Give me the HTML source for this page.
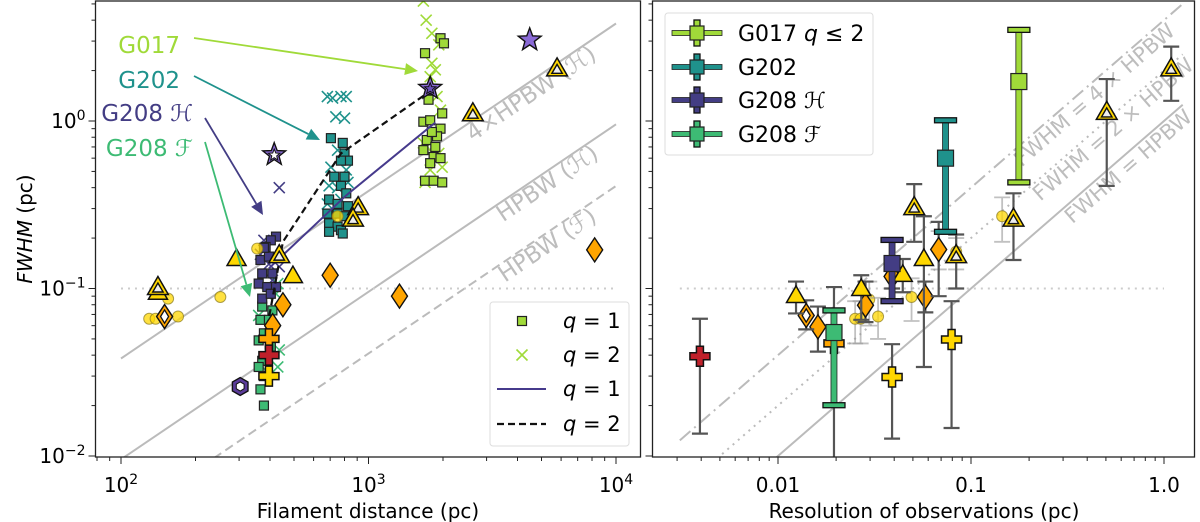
<!DOCTYPE html>
<html><head><meta charset="utf-8"><style>
html,body{margin:0;padding:0;background:#fff;}
svg{display:block;font-family:"DejaVu Sans","Liberation Sans",sans-serif;}
</style></head><body>
<svg id="fig" width="1200" height="522" viewBox="0 0 1200 522" xmlns="http://www.w3.org/2000/svg">
<defs>
<clipPath id="clipL"><rect x="95" y="1" width="546" height="456"/></clipPath>
<clipPath id="clipR"><rect x="652" y="1" width="543" height="456"/></clipPath>
</defs>
</svg>
<script>
// ---------- LEFT PANEL DATA (distance pc, FWHM pc) ----------
const g017SqD = [1954,2018,1692,1775,1748,1985,1666,1775,1954,1720,1862,1666,1833,1954,1775,1692,1833,1985,1892,1803];
const g017SqF = [3.12,2.91,2.54,1.53,1.34,1.11,0.99,1.01,0.90,0.77,0.70,0.67,0.61,0.60,0.56,0.44,0.44,0.43,0.81,0.86];
const g017XD = [1666,1710,1803,1923,1803,1862,1775,1954,1833,1720,1923,1985,1692,1775,1892,1666];
const g017XF = [5.2,4.0,3.34,2.85,2.21,2.02,1.84,1.16,0.84,0.70,0.64,0.53,0.43,0.51,1.40,0.74];
const g202SqD = [705,787,800,826,774,727,800,774,813,693,750,826,682,750,693,750,774,693,787,800];
const g202SqF = [0.79,0.74,0.64,0.58,0.58,0.465,0.465,0.41,0.37,0.34,0.32,0.31,0.28,0.28,0.245,0.234,0.223,0.218,0.213,0.27];
const g202XD = [682,716,774,813,738,800,750,705,813,693,750,826,682,774,727];
const g202XF = [1.40,1.37,1.40,1.40,1.06,1.04,0.67,0.53,0.51,0.41,0.40,0.43,0.32,0.34,0.256];
const g208HSqD = [423,403,384,366,396,372,409,360,390,423,372,403,378];
const g208HSqF = [0.204,0.194,0.177,0.148,0.155,0.123,0.123,0.107,0.102,0.102,0.087,0.093,0.175];
const g208HXD = [436,378,396,436,409,366];
const g208HXF = [0.40,0.194,0.14,0.135,0.112,0.16];
const g208FSqD = [372,409,366,396,378,360,403,372,360,378,366,378];
const g208FSqF = [0.078,0.074,0.065,0.065,0.054,0.049,0.045,0.037,0.034,0.030,0.025,0.020];
const g208FXD = [360,430,436,430,384,423];
const g208FXF = [0.069,0.107,0.043,0.034,0.0325,0.093];
const medQ1D = [396,813,1862];
const medQ1F = [0.132,0.36,0.98];
const medQ2D = [390,451,774,1720];
const medQ2F = [0.059,0.19,0.64,1.46];
const litTriD = [293,495,141];
const litTriF = [0.148,0.117,0.093];
const litTriOpenD = [436,908,866,2640,5780,141];
const litTriOpenF = [0.155,0.30,0.256,1.09,2.02,0.10];
const litDiaD = [8200,700,1334,451,410];
const litDiaF = [0.17,0.12,0.09,0.08,0.06];
const litDiaOpenD = [150];
const litDiaOpenF = [0.068];
const litCircD = [130,138,155,170,252,355,750];
const litCircF = [0.066,0.066,0.087,0.068,0.089,0.173,0.27];
const litPlusD = [396,396,396];
const litPlusF = [0.050,0.040,0.030];
const litPlusC = ["#ffa500","#c0202a","#ffd700"];
const starD = [4480,416,1775];
const starF = [3.05,0.63,1.57];
const hexD = [303];
const hexF = [0.026];
const xTicksL = [100,1000,10000];
const xTickExpL = ["2","3","4"];
const yTicks = [1,0.1,0.01];
const yTickExp = ["0","\u22121","\u22122"];
// ---------- RIGHT PANEL DATA (resolution pc, FWHM pc, err lo, err hi) ----------
const grpName = ["G017 q\u22642","G202","G208 H","G208 F"];
const grpRes = [0.177,0.0738,0.039,0.0195];
const grpF = [1.72,0.60,0.141,0.0546];
const grpLo = [0.43,0.218,0.084,0.0201];
const grpHi = [3.5,1.01,0.195,0.074];
const rPlusRes = [0.00394,0.039,0.0793,0.0195];
const rPlusF = [0.0394,0.0296,0.0496,0.047];
const rPlusLo = [0.0136,0.0127,0.0147,0.004];
const rPlusHi = [0.066,0.0465,0.084,0.102];
const rPlusC = ["#c0202a","#ffd700","#ffd700","#ffa500"];
const rTriRes = [0.0124,0.027,0.0443,0.057];
const rTriF = [0.089,0.098,0.119,0.148];
const rTriLo = [0.071,0.065,0.095,0.034];
const rTriHi = [0.11,0.12,0.15,0.27];
const rTriOpenRes = [0.0508,0.0838,0.166,0.505,1.09];
const rTriOpenF = [0.30,0.155,0.256,1.11,2.02];
const rTriOpenLo = [0.19,0.10,0.148,0.41,1.32];
const rTriOpenHi = [0.42,0.21,0.37,1.78,2.78];
const rDiaRes = [0.0161,0.0284,0.039,0.058,0.068];
const rDiaF = [0.059,0.0795,0.118,0.089,0.171];
const rDiaLo = [0.042,0.063,0.10,0.072,0.09];
const rDiaHi = [0.078,0.11,0.14,0.11,0.25];
const rDiaOpenRes = [0.014];
const rDiaOpenF = [0.069];
const rDiaOpenLo = [0.057];
const rDiaOpenHi = [0.085];
const rCircRes = [0.0251,0.0268,0.0297,0.033,0.0492,0.068,0.0838,0.145];
const rCircF = [0.066,0.066,0.086,0.068,0.089,0.171,0.166,0.27];
const rCircLo = [0.047,0.047,0.06,0.05,0.064,0.13,0.13,0.19];
const rCircHi = [0.084,0.084,0.11,0.088,0.115,0.22,0.2,0.35];
const xTicksR = [0.01,0.1,1.0];
const xTickLabR = ["0.01","0.1","1.0"];

const NS = "http://www.w3.org/2000/svg";
const svg = document.getElementById("fig");
function mk(tag, a, parent){ const e=document.createElementNS(NS,tag); for(const k in a) e.setAttribute(k,a[k]); (parent||svg).appendChild(e); return e; }
const lg = Math.log10;
const xL = d => 121 + 247.5*(lg(d)-2);
const yV = f => 121 - 167.5*lg(f);
const xR = r => 778 + 193*(lg(r)+2);
const COL = {g017:"#a0da39", g202:"#1f928c", g208H:"#433d84", g208F:"#3dbb74", star:"#8a6ad6"};

function sq(g,x,y,s,fill){ return mk("rect",{x:x-s/2,y:y-s/2,width:s,height:s,fill:fill,stroke:"#222","stroke-width":1.2},g); }
function xm(g,x,y,s,c){ const p=mk("path",{d:`M${x-s} ${y-s}L${x+s} ${y+s}M${x-s} ${y+s}L${x+s} ${y-s}`,stroke:c,"stroke-width":1.6,fill:"none"},g); return p; }
function triPts(x,y,r){ return `${x},${y-r} ${x-0.866*r},${y+0.5*r} ${x+0.866*r},${y+0.5*r}`; }
function tri(g,x,y,r,open){ const t=mk("g",{},g); mk("polygon",{points:triPts(x,y,r),fill:"#ffd700",stroke:"#111","stroke-width":1.5,"stroke-linejoin":"miter"},t); if(open) mk("polygon",{points:triPts(x,y+0.5,r*0.5),fill:"#eee",stroke:"#111","stroke-width":1.4},t); return t; }
function diaPts(x,y,w,h){ return `${x},${y-h} ${x+w},${y} ${x},${y+h} ${x-w},${y}`; }
function dia(g,x,y,w,h,open){ const t=mk("g",{},g); mk("polygon",{points:diaPts(x,y,w,h),fill:"#ffa500",stroke:"#111","stroke-width":1.4},t); if(open) mk("polygon",{points:diaPts(x,y,w*0.5,h*0.55),fill:"#fff",stroke:"#111","stroke-width":1.3},t); return t; }
function plus(g,x,y,a,b,fill){ const p=mk("polygon",{points:`${x-a},${y-b} ${x+a},${y-b} ${x+a},${y-a} ${x+b},${y-a} ${x+b},${y+a} ${x+a},${y+a} ${x+a},${y+b} ${x-a},${y+b} ${x-a},${y+a} ${x-b},${y+a} ${x-b},${y-a} ${x-a},${y-a}`,fill:fill,stroke:"#111","stroke-width":1.5},g); return p; }
function starPts(x,y,R,r){ let p=[]; for(let i=0;i<10;i++){ const a=-Math.PI/2+i*Math.PI/5; const rr=i%2?r:R; p.push((x+rr*Math.cos(a)).toFixed(1)+","+(y+rr*Math.sin(a)).toFixed(1)); } return p.join(" "); }
function circ(g,x,y,r){ return mk("circle",{cx:x,cy:y,r:r,fill:"#ffd700","fill-opacity":0.75,stroke:"#8a7a20","stroke-width":1,"stroke-opacity":0.7},g); }
function ebar(g,x,lo,hi,c,w,op){ const t=mk("g",{opacity:op||1},g); mk("line",{x1:x,y1:yV(lo),x2:x,y2:yV(hi),stroke:c,"stroke-width":w||2.2},t); mk("line",{x1:x-8,y1:yV(lo),x2:x+8,y2:yV(lo),stroke:c,"stroke-width":w||2.2},t); mk("line",{x1:x-8,y1:yV(hi),x2:x+8,y2:yV(hi),stroke:c,"stroke-width":w||2.2},t); return t; }

// ================= LEFT PANEL =================
const L = mk("g",{});


const Lc = mk("g",{"clip-path":"url(#clipL)"},L);


const refC = [-3.418,-4.02,-4.388];
const refDash = ["none","none","9,5"];
const refNames = ["ref-line-4xhpbw-h","ref-line-hpbw-h","ref-line-hpbw-f"];
for(let i=0;i<3;i++){
  const l = mk("line",{x1:xL(100),y1:yV(Math.pow(10,2+refC[i])),x2:xL(10000),y2:yV(Math.pow(10,4+refC[i])),stroke:"#bbb","stroke-width":2,"stroke-dasharray":refDash[i]},Lc);
  
  
}
const refLabTxt = ["4\u00d7HPBW (\u210b)","HPBW (\u210b)","HPBW (\u2131)"];
const refLabD = [4300,5000,5000];
for(let i=0;i<3;i++){
  const d=refLabD[i], f=Math.pow(10,lg(d)+refC[i]);
  const tx=xL(d), ty=yV(f);
  const t = mk("text",{x:tx,y:ty+18,fill:"#bdbdbd","font-size":23,"text-anchor":"middle",transform:`rotate(-34 ${tx} ${ty})`},Lc);
  t.textContent = refLabTxt[i];
  
  
}
const dotL = mk("line",{x1:xL(100),y1:yV(0.1),x2:xL(10000),y2:yV(0.1),stroke:"#ccc","stroke-width":2,"stroke-dasharray":"2,5"},Lc);



const groups = [
 [g208FSqD,g208FSqF,g208FXD,g208FXF,COL.g208F,"g208f"],
 [g208HSqD,g208HSqF,g208HXD,g208HXF,COL.g208H,"g208h"],
 [g202SqD,g202SqF,g202XD,g202XF,COL.g202,"g202"],
 [g017SqD,g017SqF,g017XD,g017XF,COL.g017,"g017"]];
for(const G of groups){
  for(let i=0;i<G[2].length;i++){ const m=xm(Lc,xL(G[2][i]),yV(G[3][i]),5.5,G[4]);
    
     }
  for(let i=0;i<G[0].length;i++){ const m=sq(Lc,xL(G[0][i]),yV(G[1][i]),9,G[4]);
    
     }
}
const q1line = mk("polyline",{points:medQ1D.map((d,i)=>xL(d)+","+yV(medQ1F[i])).join(" "),fill:"none",stroke:"#463a8c","stroke-width":2},Lc);


const q2line = mk("polyline",{points:medQ2D.map((d,i)=>xL(d)+","+yV(medQ2F[i])).join(" "),fill:"none",stroke:"#111","stroke-width":2.2,"stroke-dasharray":"7,4"},Lc);



for(let i=0;i<litCircD.length;i++){ const m=circ(Lc,xL(litCircD[i]),yV(litCircF[i]),5.5);
  
   }
for(let i=0;i<litDiaD.length;i++){ const m=dia(Lc,xL(litDiaD[i]),yV(litDiaF[i]),8,12,false);
  
   }
for(let i=0;i<litDiaOpenD.length;i++){ const m=dia(Lc,xL(litDiaOpenD[i]),yV(litDiaOpenF[i]),8,12,true);
  
   }
for(let i=0;i<litTriD.length;i++){ const m=tri(Lc,xL(litTriD[i]),yV(litTriF[i]),11,false);
  
   }
for(let i=0;i<litTriOpenD.length;i++){ const m=tri(Lc,xL(litTriOpenD[i]),yV(litTriOpenF[i]),12,true);
  
   }
for(let i=0;i<litPlusD.length;i++){ const m=plus(Lc,xL(litPlusD[i]),yV(litPlusF[i]),3.5,10,litPlusC[i]);
  
   }
const starStyles = [["#8a6ad6",null],["#8a6ad6","#fff"],["#8a6ad6","#6a50b8"]];
for(let i=0;i<starD.length;i++){ const x=xL(starD[i]), y=yV(starF[i]);
  const s=mk("polygon",{points:starPts(x,y,12,5),fill:starStyles[i][0],stroke:"#111","stroke-width":1.4},Lc);
  
  
  if(starStyles[i][1]){ const s2=mk("polygon",{points:starPts(x,y+0.5,6,2.6),fill:starStyles[i][1],stroke:"#111","stroke-width":1},Lc);
    
     } }
for(let i=0;i<hexD.length;i++){ const x=xL(hexD[i]),y=yV(hexF[i]); let p=[],q=[];
  for(let k=0;k<6;k++){ const a=Math.PI/6+k*Math.PI/3; p.push((x+9*Math.cos(a)).toFixed(1)+","+(y+9*Math.sin(a)).toFixed(1)); q.push((x+4.5*Math.cos(a)).toFixed(1)+","+(y+4.5*Math.sin(a)).toFixed(1)); }
  const h=mk("polygon",{points:p.join(" "),fill:"#5b3c9a",stroke:"#111","stroke-width":1.4},Lc);
  
  
  const h2=mk("polygon",{points:q.join(" "),fill:"#fff",stroke:"#111","stroke-width":1},Lc);
  
   }

// annotations
const ann = [["G017",COL.g017,45,194,38,418,71,180],["G202",COL.g202,80,194,76,320,140,180],["G208 \u210b",COL.g208H,113,205,118,263,215,193],["G208 \u2131",COL.g208F,148,205,142,250,297,193]];
for(const a of ann){
  const t=mk("text",{x:a[7],y:a[2]+8,fill:a[1],"font-size":23,"text-anchor":"end"},L);
  t.textContent=a[0];
  
  
  const dx=a[5]-a[3], dy=a[6]-a[4], len=Math.hypot(dx,dy), ux=dx/len, uy=dy/len;
  const bx=a[5]-ux*13, by=a[6]-uy*13;
  const ln=mk("line",{x1:a[3],y1:a[4],x2:bx,y2:by,stroke:a[1],"stroke-width":1.8},L);
  
  
  const hd=mk("polygon",{points:`${a[5]},${a[6]} ${bx-uy*6},${by+ux*6} ${bx+uy*6},${by-ux*6}`,fill:a[1]},L);
  
  
}

// left legend
const lgL = mk("g",{},L);


mk("rect",{x:490,y:302,width:139,height:144,rx:3,fill:"#fff","fill-opacity":0.85,stroke:"#ddd"},lgL);
const legRows=[321,355,389,424], legTxt=["1","2","1","2"];
sq(lgL,522,321,9,COL.g017);
xm(lgL,522,355,5.5,COL.g017);
mk("line",{x1:497,y1:389,x2:546,y2:389,stroke:"#463a8c","stroke-width":2},lgL);
mk("line",{x1:497,y1:424,x2:546,y2:424,stroke:"#111","stroke-width":2.2,"stroke-dasharray":"7,4"},lgL);
for(let i=0;i<4;i++){ const t=mk("text",{x:563,y:legRows[i]+7,"font-size":21},lgL);
  t.innerHTML=`<tspan font-style="italic">q</tspan> = ${legTxt[i]}`;
  
   }

// left axes
const frL = mk("rect",{x:95.5,y:1,width:545,height:456,fill:"none",stroke:"#222","stroke-width":1.3},L);


for(let e=1;e<=4;e++) for(let m=1;m<10;m++){ const v=m*Math.pow(10,e); const x=xL(v); if(x<95||x>641) continue;
  mk("line",{x1:x,y1:457,x2:x,y2:457+(m===1?7:4),stroke:"#222","stroke-width":1},L); }
for(let i=0;i<xTicksL.length;i++){ const t=mk("text",{x:xL(xTicksL[i]),y:492,"font-size":20,"text-anchor":"middle"},L);
  t.innerHTML=`10<tspan dy="-8" font-size="14">${xTickExpL[i]}</tspan>`;
  
   }
const xtL=mk("text",{x:368,y:518,"font-size":20,"text-anchor":"middle"},L);
xtL.textContent="Filament distance (pc)";


function yTicksAt(x0,g,labels){
  for(let e=-3;e<=1;e++) for(let m=1;m<10;m++){ const v=m*Math.pow(10,e); const y=yV(v); if(y<1||y>457) continue;
    mk("line",{x1:x0,y1:y,x2:x0-(m===1?7:4),y2:y,stroke:"#222","stroke-width":1},g); }
  if(labels) for(let i=0;i<yTicks.length;i++){ const t=mk("text",{x:x0-10,y:yV(yTicks[i])+7,"font-size":20,"text-anchor":"end"},g);
    t.innerHTML=`10<tspan dy="-8" font-size="14">${yTickExp[i]}</tspan>`;
    
     }
}
yTicksAt(95.5,L,true);
const ytl=mk("text",{x:0,y:0,"font-size":20,"text-anchor":"middle",transform:"translate(32 229) rotate(-90)"},L);
ytl.innerHTML=`<tspan font-style="italic">FWHM</tspan> (pc)`;



// ================= RIGHT PANEL =================
const R = mk("g",{});


const Rc = mk("g",{"clip-path":"url(#clipR)"},R);


const kFac=[4,2,1], kDash=["14,5,2,5","2,5","none"], kName=["ref-line-4x","ref-line-2x","ref-line-1x"], kTxt=["FWHM = 4 \u00d7 HPBW","FWHM = 2 \u00d7 HPBW","FWHM = HPBW"], kLab=[0.40,0.50,0.60];
for(let i=0;i<3;i++){
  const r0=0.0031, r1=1.25;
  const l=mk("line",{x1:xR(r0),y1:yV(r0*kFac[i]),x2:xR(r1),y2:yV(r1*kFac[i]),stroke:"#bbb","stroke-width":2,"stroke-dasharray":kDash[i]},Rc);
  
  
  const lx=xR(kLab[i]), ly=yV(kLab[i]*kFac[i]);
  const t=mk("text",{x:lx,y:ly+18,fill:"#bdbdbd","font-size":21,"text-anchor":"middle",transform:`rotate(-41 ${lx} ${ly})`},Rc);
  t.textContent=kTxt[i];
  
  
}
const dotR=mk("line",{x1:xR(0.0031),y1:yV(0.1),x2:xR(1.0),y2:yV(0.1),stroke:"#ccc","stroke-width":2,"stroke-dasharray":"2,5"},Rc);



const EB="#555";
for(let i=0;i<rCircRes.length;i++){ const x=xR(rCircRes[i]);
  const e=ebar(Rc,x,rCircLo[i],rCircHi[i],"#999",1.8,0.6);
  
  
  const m=circ(Rc,x,yV(rCircF[i]),5.5);
  
   }
for(let i=0;i<rDiaRes.length;i++){ const x=xR(rDiaRes[i]);
  const e=ebar(Rc,x,rDiaLo[i],rDiaHi[i],EB);
  
  
  const m=dia(Rc,x,yV(rDiaF[i]),8,12,false);
  
   }
for(let i=0;i<rDiaOpenRes.length;i++){ const x=xR(rDiaOpenRes[i]);
  const e=ebar(Rc,x,rDiaOpenLo[i],rDiaOpenHi[i],EB);
  
  
  const m=dia(Rc,x,yV(rDiaOpenF[i]),8,12,true);
  
   }
for(let i=0;i<rTriRes.length;i++){ const x=xR(rTriRes[i]);
  const e=ebar(Rc,x,rTriLo[i],rTriHi[i],EB);
  
  
  const m=tri(Rc,x,yV(rTriF[i]),11,false);
  
   }
for(let i=0;i<rTriOpenRes.length;i++){ const x=xR(rTriOpenRes[i]);
  const e=ebar(Rc,x,rTriOpenLo[i],rTriOpenHi[i],EB);
  
  
  const m=tri(Rc,x,yV(rTriOpenF[i]),12,true);
  
   }
for(let i=0;i<rPlusRes.length;i++){ const x=xR(rPlusRes[i]);
  const e=ebar(Rc,x,rPlusLo[i],rPlusHi[i],EB);
  
  
  const m=plus(Rc,x,yV(rPlusF[i]),3.5,10,rPlusC[i]);
  
   }
const grpCol=[COL.g017,COL.g202,COL.g208H,COL.g208F];
const grpKey=["g017","g202","g208h","g208f"];
for(let i=0;i<4;i++){ const x=xR(grpRes[i]);
  const g=mk("g",{},Rc);
  
  
  mk("rect",{x:x-3,y:yV(grpHi[i]),width:6,height:yV(grpLo[i])-yV(grpHi[i]),fill:grpCol[i],stroke:"#222","stroke-width":0.8},g);
  for(const v of [grpLo[i],grpHi[i]]) mk("rect",{x:x-11,y:yV(v)-2.5,width:22,height:5,fill:grpCol[i],stroke:"#111","stroke-width":1.3},g);
  sq(g,x,yV(grpF[i]),16,grpCol[i]);
}

// right legend
const lgR=mk("g",{},R);


mk("rect",{x:665,y:13,width:208,height:142,rx:3,fill:"#fff","fill-opacity":0.85,stroke:"#ddd"},lgR);
const lrRows=[33,67,100,134];
for(let i=0;i<4;i++){ const y=lrRows[i];
  const en=mk("g",{},lgR);
  
  
  mk("rect",{x:672,y:y-2.5,width:50,height:5,fill:grpCol[i],stroke:"#222","stroke-width":0.8},en);
  mk("rect",{x:694,y:y-13,width:6,height:26,fill:grpCol[i],stroke:"#111","stroke-width":1.3},en);
  sq(en,697,y,14,grpCol[i]);
  const t=mk("text",{x:738,y:y+8,"font-size":22},en);
  if(i===0) t.innerHTML=`G017 <tspan font-style="italic">q</tspan> \u2264 2`;
  else if(i===2) t.textContent="G208 \u210b";
  else if(i===3) t.textContent="G208 \u2131";
  else t.textContent="G202";
}

// right axes
const frR=mk("rect",{x:652.5,y:1,width:542,height:456,fill:"none",stroke:"#222","stroke-width":1.3},R);


for(let e=-3;e<=0;e++) for(let m=1;m<10;m++){ const v=m*Math.pow(10,e); const x=xR(v); if(x<652||x>1195) continue;
  mk("line",{x1:x,y1:457,x2:x,y2:457+(m===1?7:4),stroke:"#222","stroke-width":1},R); }
for(let i=0;i<xTicksR.length;i++){ const t=mk("text",{x:xR(xTicksR[i]),y:492,"font-size":20,"text-anchor":"middle"},R);
  t.textContent=xTickLabR[i];
  
   }
const xtR=mk("text",{x:924,y:518,"font-size":20,"text-anchor":"middle"},R);
xtR.textContent="Resolution of observations (pc)";


yTicksAt(652.5,R,false);
</script>
</body></html>
